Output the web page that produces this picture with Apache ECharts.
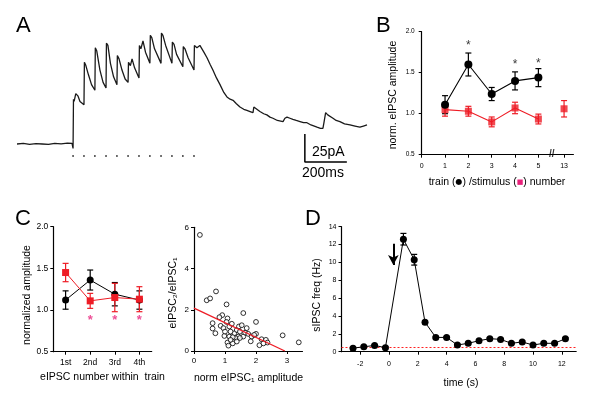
<!DOCTYPE html>
<html><head><meta charset="utf-8">
<script src="https://cdn.jsdelivr.net/npm/echarts@6/dist/echarts.min.js"></script>
<style>html,body{margin:0;padding:0;background:#fff}#c{width:600px;height:410px}</style>
</head><body><div id="c"></div>
<script>
// ---------- Panel A: current trace [time ms, current pA] ----------
const traceA = [[0,0],[30,0.5],[60,-0.3],[90,0.4],[120,0],[150,-0.4],[180,0.6],[210,0.2],[240,0.8],[262,0.5],
[267,-4],[269,40],[272,38],[280,45],[290,43],[300,38],[319,35],
[321,73],[328,70],[340,62],[355,53],[371,48],
[373,86],[380,83],[395,66],[410,55],[424,50],
[426,90],[433,88],[445,72],[460,60],[476,53],
[478,79],[486,76],[500,66],[515,58],[529,55],
[531,73],[540,70],[548,76],[560,68],[581,59],
[583,88],[590,85],[600,92],[612,82],[633,72],
[635,97],[642,95],[655,85],[686,72],
[688,99],[695,97],[708,88],[738,72],
[740,91],[748,89],[760,80],[790,69],
[792,87],[800,85],[815,77],[843,66],
[845,88],[857,86],[871,88],[890,82],[905,77],[920,71],[933,66],[950,59],[967,53],[985,46],[1000,42],[1015,40],[1029,39],[1045,36],[1062,33],[1080,31],[1095,30],[1110,29],[1124,28],[1128,33],[1135,32],[1157,29],[1175,27],[1190,26],[1205,24],[1219,23],[1240,21],[1267,20],[1276,23],[1286,24],[1300,23],[1314,22],[1330,21],[1348,20],[1365,19],[1381,19],[1400,17],[1429,15],[1445,14],[1457,14],[1462,19],[1470,28],[1480,26],[1505,23],[1520,21],[1538,20],[1560,18],[1586,17],[1610,16],[1633,15],[1650,16],[1667,17]];
const stimTimesA = [267,319,371,424,476,529,581,633,686,738,790,843];
const stimLevelA = -10.7;
const scaleBarA = [[1371,9],[1371,-16],[1571,-16]];

// ---------- Panel B ----------
const bTrainX = [1,2,3,4,5];
const bTrainMean = [1.11,1.60,1.24,1.40,1.44];
const bTrainErr = [0.11,0.14,0.08,0.11,0.11];
const bStimX = [1,2,3,4,5,13];
const bStimMean = [1.05,1.03,0.90,1.07,0.935,1.06];
const bStimErr = [0.08,0.06,0.06,0.07,0.06,0.10];
const bSigX = [2,4,5];
const bSigY = [1.87,1.63,1.65];
const bTickValues = [0,1,2,3,4,5,13];

// ---------- Panel C (left) ----------
const cCats = ['1st','2nd','3rd','4th'];
const cTrainMean = [1.12,1.36,1.19,1.12];
const cTrainErr = [0.11,0.12,0.14,0.11];
const cStimMean = [1.45,1.11,1.15,1.13];
const cStimErr = [0.11,0.09,0.17,0.15];
const cSigIdx = [1,2,3];
const cSigY = 0.91;

// ---------- Panel C (right) ----------
const crX = [0.19,0.71,0.41,0.52,1.05,0.91,1.08,1.59,0.60,0.60,0.69,0.86,0.95,1.05,1.14,1.22,0.98,1.08,1.11,1.25,1.14,1.30,1.38,1.45,1.54,1.43,1.59,1.65,1.75,1.86,1.83,2.00,2.00,2.11,2.18,2.32,2.37,2.86,3.38,1.18,1.35,1.48,1.70,1.00,1.25,1.94,2.24,0.82,1.48,1.38,1.18];
const crY = [5.63,2.89,2.46,2.55,2.26,1.74,1.58,1.84,1.35,1.09,0.86,1.22,1.11,1.41,1.19,1.32,0.73,0.41,0.26,0.37,0.70,0.86,1.02,1.19,1.25,0.70,0.70,0.89,0.83,0.70,0.47,1.41,0.83,0.28,0.57,0.54,0.41,0.76,0.42,0.94,0.62,0.94,1.11,0.94,0.67,0.78,0.37,1.64,0.63,0.46,0.54];
const crFitX = [0,2.93];
const crFitY = [2.08,0];

// ---------- Panel D ----------
const dTime = [-2.5,-1.75,-1.0,-0.25,1.0,1.75,2.5,3.25,4.0,4.75,5.5,6.25,7.0,7.75,8.5,9.25,10.0,10.75,11.5,12.25];
const dFreq = [0.40,0.55,0.70,0.45,12.6,10.3,3.3,1.6,1.6,0.75,0.94,1.23,1.46,1.38,0.94,1.09,0.75,0.94,0.94,1.46];
const dErr  = [0.1,0.1,0.1,0.1,0.65,0.6,0.15,0.1,0.1,0.1,0.1,0.1,0.1,0.1,0.1,0.1,0.1,0.1,0.1,0.1];
const dBaseline = 0.5;
const dArrowT = 0.3, dArrowFrom = 12.1, dArrowTo = 9.7;
const dTicks = [-2,0,2,4,6,8,10,12];

const F = 'Liberation Sans, Arial, DejaVu Sans, sans-serif';
const RED = '#ee1c25';
const PINK = '#e8207a';
const CLEAR = 'rgba(0,0,0,0)';

// axis position for B (axis break between 5 and 13)
const bPos = n => n > 5 ? 6.1 : n;

function errSeries(xi, yi, data, color, w) {
  return {
    type: 'custom', xAxisIndex: xi, yAxisIndex: yi, z: 2, silent: true,
    data: data,
    renderItem: function (params, api) {
      const x = api.value(0), y = api.value(1), e = api.value(2);
      const p1 = api.coord([x, y + e]), p2 = api.coord([x, y - e]);
      const st = { stroke: color, lineWidth: 1.2 };
      return { type: 'group', children: [
        { type: 'line', shape: { x1: p1[0], y1: p1[1], x2: p2[0], y2: p2[1] }, style: st },
        { type: 'line', shape: { x1: p1[0] - w, y1: p1[1], x2: p1[0] + w, y2: p1[1] }, style: st },
        { type: 'line', shape: { x1: p2[0] - w, y1: p2[1], x2: p2[0] + w, y2: p2[1] }, style: st }
      ]};
    }
  };
}

function ax(fs, margin, extra) {
  return Object.assign({
    axisLine: { show: true, onZero: false, lineStyle: { color: '#000', width: 1.2 } },
    axisTick: { show: true, length: 3, lineStyle: { color: '#000', width: 1 } },
    axisLabel: { color: '#000', fontSize: fs, fontFamily: F, margin: margin },
    splitLine: { show: false }
  }, extra);
}

function txt(x, y, text, size, opts) {
  return Object.assign({ type: 'text', x: x, y: y, silent: true,
    style: Object.assign({ text: text, fontSize: size, fontFamily: F, fill: '#000', align: 'center', verticalAlign: 'middle' }, (opts && opts.style) || {}) },
    (opts && opts.el) || {});
}

function labelSeries(xi, yi, data, text, color, size, offset, weight) {
  return { type: 'scatter', xAxisIndex: xi, yAxisIndex: yi, z: 8, data: data,
    symbolSize: 2, itemStyle: { color: CLEAR }, silent: true,
    label: { show: true, position: 'inside', formatter: text, fontSize: size, fontFamily: F, color: color, offset: offset, fontWeight: weight || 'normal' } };
}

const chart = echarts.init(document.getElementById('c'), null, { renderer: 'canvas' });

const option = {
  animation: false,
  backgroundColor: '#fff',
  grid: [
    { left: 17, top: 32, width: 350, height: 140, outerBoundsMode: 'none' },
    { left: 421.7, top: 31.7, width: 151.7, height: 123, outerBoundsMode: 'none' },
    { left: 53.3, top: 226.7, width: 98.4, height: 125, outerBoundsMode: 'none' },
    { left: 194, top: 227.3, width: 108.5, height: 123.7, outerBoundsMode: 'none' },
    { left: 341.5, top: 226.7, width: 234.7, height: 125, outerBoundsMode: 'none' }
  ],
  xAxis: [
    { type: 'value', gridIndex: 0, min: 0, max: 1667, show: false },
    ax(7, 8, { type: 'value', gridIndex: 1, min: 0, max: 6.5,
      axisTick: { show: true, length: 3, customValues: bTickValues.map(bPos), lineStyle: { color: '#000' } },
      axisLabel: { color: '#000', fontSize: 7, fontFamily: F, margin: 8, customValues: bTickValues.map(bPos),
        formatter: v => v > 5.5 ? '13' : String(Math.round(v)) } }),
    ax(8.5, 6, { type: 'category', gridIndex: 2, data: cCats, boundaryGap: true,
      axisTick: { show: true, length: 3, alignWithLabel: true, lineStyle: { color: '#000' } } }),
    ax(8, 6, { type: 'value', gridIndex: 3, min: 0, max: 3.5,
      axisTick: { show: true, length: 3, customValues: [0,1,2,3], lineStyle: { color: '#000' } },
      axisLabel: { color: '#000', fontSize: 8, fontFamily: F, margin: 6, customValues: [0,1,2,3] } }),
    ax(7, 9, { type: 'value', gridIndex: 4, min: -3.3, max: 13,
      axisTick: { show: true, length: 3, customValues: dTicks, lineStyle: { color: '#000' } },
      axisLabel: { color: '#000', fontSize: 7, fontFamily: F, margin: 9, customValues: dTicks } })
  ],
  yAxis: [
    { type: 'value', gridIndex: 0, min: -25, max: 100, show: false },
    ax(6.5, 7, { type: 'value', gridIndex: 1, min: 0.5, max: 2.0, interval: 0.5,
      axisLabel: { color: '#000', fontSize: 6.5, fontFamily: F, margin: 7, formatter: v => v.toFixed(1) } }),
    ax(8.5, 5, { type: 'value', gridIndex: 2, min: 0.5, max: 2.0, interval: 0.5,
      axisLabel: { color: '#000', fontSize: 8.5, fontFamily: F, margin: 5, formatter: v => v.toFixed(1) } }),
    ax(8, 5, { type: 'value', gridIndex: 3, min: 0, max: 6, interval: 2 }),
    ax(7, 5, { type: 'value', gridIndex: 4, min: 0, max: 14, interval: 2 })
  ],
  series: [
    // A
    { type: 'line', xAxisIndex: 0, yAxisIndex: 0, data: traceA, showSymbol: false, symbol: 'none',
      lineStyle: { color: '#1a1a1a', width: 1.3 }, silent: true },
    { type: 'scatter', xAxisIndex: 0, yAxisIndex: 0, data: stimTimesA.map(t => [t, stimLevelA]),
      symbolSize: 1.8, itemStyle: { color: '#000' }, silent: true },
    { type: 'line', xAxisIndex: 0, yAxisIndex: 0, data: scaleBarA, showSymbol: false, symbol: 'none',
      lineStyle: { color: '#000', width: 1.5 }, silent: true },
    // B
    errSeries(1, 1, bTrainX.map((x, i) => [bPos(x), bTrainMean[i], bTrainErr[i]]), '#000', 3),
    errSeries(1, 1, bStimX.map((x, i) => [bPos(x), bStimMean[i], bStimErr[i]]), RED, 3),
    { type: 'line', xAxisIndex: 1, yAxisIndex: 1, z: 3, data: bStimX.slice(0, 5).map((x, i) => [bPos(x), bStimMean[i]]),
      symbol: 'none', lineStyle: { color: RED, width: 1.1 }, silent: true },
    { type: 'scatter', xAxisIndex: 1, yAxisIndex: 1, z: 4, data: bStimX.map((x, i) => [bPos(x), bStimMean[i]]),
      symbol: 'rect', symbolSize: 7, itemStyle: { color: RED }, silent: true },
    { type: 'line', xAxisIndex: 1, yAxisIndex: 1, z: 5, data: bTrainX.map((x, i) => [bPos(x), bTrainMean[i]]),
      symbol: 'circle', symbolSize: 8, showAllSymbol: true, itemStyle: { color: '#000' },
      lineStyle: { color: '#000', width: 1.1 }, silent: true },
    labelSeries(1, 1, bSigX.map((x, i) => [bPos(x), bSigY[i]]), '*', '#000', 12, [0, 3]),
    labelSeries(1, 1, [[5.57, 0.5]], '//', '#000', 10, [0, 0], 'bold'),
    // C left
    errSeries(2, 2, cCats.map((c, i) => [i, cTrainMean[i], cTrainErr[i]]), '#000', 3),
    errSeries(2, 2, cCats.map((c, i) => [i, cStimMean[i], cStimErr[i]]), RED, 3),
    { type: 'line', xAxisIndex: 2, yAxisIndex: 2, z: 4, data: cTrainMean,
      symbol: 'circle', symbolSize: 7, itemStyle: { color: '#000' }, lineStyle: { color: '#000', width: 1 }, silent: true },
    { type: 'line', xAxisIndex: 2, yAxisIndex: 2, z: 5, data: cStimMean,
      symbol: 'rect', symbolSize: 7, itemStyle: { color: RED }, lineStyle: { color: RED, width: 1 }, silent: true },
    labelSeries(2, 2, cSigIdx.map(i => [i, cSigY]), '*', PINK, 13, [0, 3], 'bold'),
    // C right
    { type: 'scatter', xAxisIndex: 3, yAxisIndex: 3, z: 3, data: crX.map((x, i) => [x, crY[i]]),
      symbol: 'circle', symbolSize: 4.8, itemStyle: { color: '#fff', borderColor: '#000', borderWidth: 1 }, silent: true },
    { type: 'line', xAxisIndex: 3, yAxisIndex: 3, z: 4, data: crFitX.map((x, i) => [x, crFitY[i]]),
      symbol: 'none', lineStyle: { color: RED, width: 1.3 }, silent: true },
    // D
    errSeries(4, 4, dTime.map((t, i) => [t, dFreq[i], dErr[i]]), '#000', 3),
    { type: 'line', xAxisIndex: 4, yAxisIndex: 4, z: 5, data: dTime.map((t, i) => [t, dFreq[i]]),
      symbol: 'circle', symbolSize: 7, itemStyle: { color: '#000' }, lineStyle: { color: '#000', width: 1 }, silent: true,
      markLine: { silent: true, animation: false, symbol: ['none', 'none'], label: { show: false },
        data: [{ yAxis: dBaseline, lineStyle: { color: '#ff2020', width: 1, type: [2, 2] } }] } },
    { type: 'line', xAxisIndex: 4, yAxisIndex: 4, z: 6, data: [], silent: true,
      markLine: { silent: true, animation: false, symbol: ['none', 'arrow'], symbolSize: [8, 10], label: { show: false },
        lineStyle: { color: '#000', width: 2, type: 'solid' },
        data: [[{ coord: [dArrowT, dArrowFrom] }, { coord: [dArrowT, dArrowTo] }]] } }
  ],
  graphic: [
    txt(16, 26, 'A', 22, { style: { align: 'left' } }),
    txt(376, 26, 'B', 22, { style: { align: 'left' } }),
    txt(15, 219, 'C', 22, { style: { align: 'left' } }),
    txt(305, 219, 'D', 22, { style: { align: 'left' } }),
    txt(312, 152, '25pA', 14, { style: { align: 'left' } }),
    txt(302, 173, '200ms', 14, { style: { align: 'left' } }),
    txt(393, 95, 'norm. eIPSC amplitude', 10.5, { el: { rotation: Math.PI / 2 } }),
    { type: 'text', x: 497, y: 182, silent: true, style: {
        text: '{a|train (}{c|●}{a|) /stimulus (}{s|■}{a|) number}', align: 'center', verticalAlign: 'middle',
        rich: { a: { fontSize: 10.5, fontFamily: F, fill: '#000', color: '#000' },
                c: { fontSize: 8, fontFamily: 'DejaVu Sans', fill: '#000', color: '#000' },
                s: { fontSize: 7, fontFamily: 'DejaVu Sans', fill: PINK, color: PINK } } } },
    txt(26.7, 295, 'normalized amplitude', 10.5, { el: { rotation: Math.PI / 2 } }),
    txt(102.5, 377, 'eIPSC number within  train', 10.5),
    txt(173.3, 293, 'eIPSC₂/eIPSC₁', 10.5, { el: { rotation: Math.PI / 2 } }),
    txt(248.5, 378, 'norm eIPSC₁ amplitude', 10.5),
    txt(316.7, 295, 'sIPSC freq (Hz)', 10.5, { el: { rotation: Math.PI / 2 } }),
    txt(461, 383, 'time (s)', 10.5)
  ]
};
chart.setOption(option);
</script></body></html>
